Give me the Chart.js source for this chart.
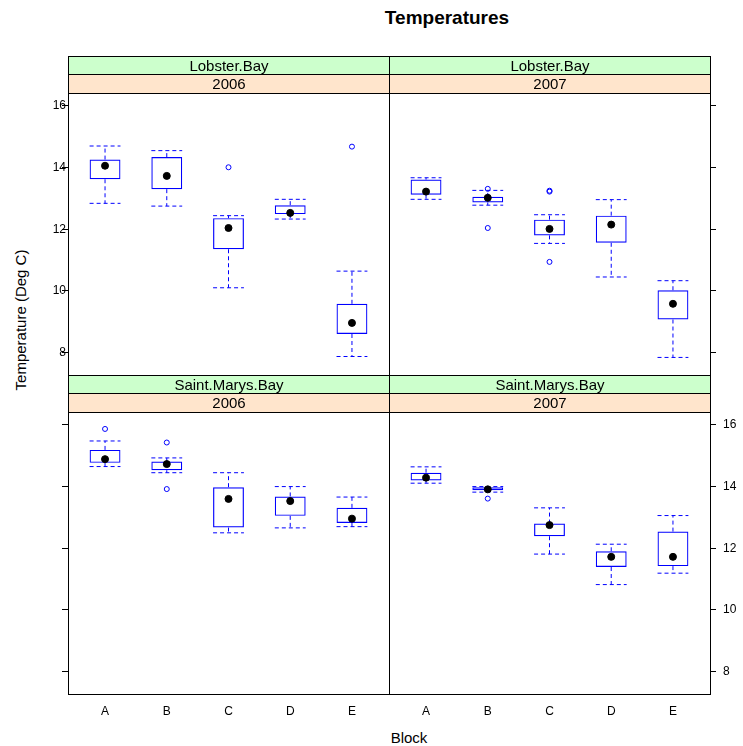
<!DOCTYPE html>
<html>
<head>
<meta charset="utf-8">
<script src="https://cdn.jsdelivr.net/npm/chart.js@4"></script>
<style>
  body { margin: 0; background: #fff; }
  #page { position: relative; width: 743px; height: 746px; overflow: hidden; font-family: 'Liberation Sans', Arial, sans-serif; }
  #page canvas { position: absolute; }
  .lbl { position: absolute; white-space: nowrap; color: #000; }
  #title { left: 447px; top: 18px; transform: translate(-50%, -50%); font-weight: bold; font-size: 19px; }
  #ylab { left: 20px; top: 320px; transform: translate(-50%, -50%) rotate(-90deg); font-size: 15px; }
  #xlab { left: 409px; top: 737px; transform: translate(-50%, -50%); font-size: 15px; }
</style>
</head>
<body>
<div id="page">
  <div class="lbl" id="title">Temperatures</div>
  <div class="lbl" id="ylab">Temperature (Deg C)</div>
  <div class="lbl" id="xlab">Block</div>
</div>
<script>
const blocks = ["A", "B", "C", "D", "E"];
const yTicks = [8, 10, 12, 14, 16];
const sites = ["Lobster.Bay", "Saint.Marys.Bay"];
const years = ["2006", "2007"];

// per block: [lower whisker, lower hinge, median, upper hinge, upper whisker]
const lobster2006 = [
  [12.84, 13.62, 14.06, 14.26, 14.70],
  [12.75, 13.30, 13.73, 14.34, 14.55],
  [10.10, 11.35, 12.04, 12.36, 12.44],
  [12.33, 12.49, 12.53, 12.78, 12.97],
  [7.87, 8.60, 8.96, 9.58, 10.64]
];
const lobster2007 = [
  [12.97, 13.12, 13.22, 13.61, 13.67],
  [12.78, 12.87, 13.02, 13.05, 13.26],
  [11.54, 11.80, 12.01, 12.31, 12.47],
  [10.45, 11.56, 12.15, 12.44, 12.96],
  [7.84, 9.07, 9.58, 10.02, 10.33]
];
const stMarys2006 = [
  [14.65, 14.77, 14.89, 15.19, 15.48],
  [14.45, 14.53, 14.73, 14.81, 14.93],
  [12.50, 12.67, 13.60, 13.98, 14.45],
  [12.66, 13.05, 13.53, 13.68, 14.00],
  [12.70, 12.82, 12.96, 13.31, 13.66]
];
const stMarys2007 = [
  [14.11, 14.20, 14.29, 14.45, 14.64],
  [13.82, 13.88, 13.91, 13.98, 14.00],
  [11.81, 12.39, 12.75, 12.80, 13.31],
  [10.82, 11.39, 11.72, 11.90, 12.13],
  [11.19, 11.42, 11.72, 12.54, 13.06]
];

// outliers: [block, value]
const lobster2006Out = [["C", 14.01], ["E", 14.68]];
const lobster2007Out = [["B", 13.31], ["B", 12.04], ["C", 13.22], ["C", 13.25], ["C", 10.94]];
const stMarys2006Out = [["A", 15.87], ["B", 15.43], ["B", 13.92]];
const stMarys2007Out = [["B", 13.61]];

const blue = "#0000FF";
Chart.defaults.font.family = "'Liberation Sans', Arial, sans-serif";
Chart.defaults.color = "#000";

const panels = [
  { site: sites[0], year: years[0], stats: lobster2006, out: lobster2006Out, row: 0, col: 0 },
  { site: sites[0], year: years[1], stats: lobster2007, out: lobster2007Out, row: 0, col: 1 },
  { site: sites[1], year: years[0], stats: stMarys2006, out: stMarys2006Out, row: 1, col: 0 },
  { site: sites[1], year: years[1], stats: stMarys2007, out: stMarys2007Out, row: 1, col: 1 }
];

const cols = [
  { left: 0, width: 400, padLeft: 0, padRight: 11, axis: "left", axisWidth: 68 },
  { left: 378, width: 365, padLeft: 11, padRight: 0, axis: "right", axisWidth: 33 }
];
const rows = [
  { top: 45, height: 340, padTop: 48, padBottom: 10, xAxis: false },
  { top: 364, height: 382, padTop: 48, padBottom: 0, xAxis: true, xAxisHeight: 52 }
];

// strips + panel border
const panelStrip = {
  id: "panelStrip",
  afterDraw(chart, args, opts) {
    const { ctx, chartArea: a } = chart;
    const l = Math.round(a.left) + 0.5, r = Math.round(a.right) + 0.5;
    const t = Math.round(a.top) + 0.5, b = Math.round(a.bottom) + 0.5;
    ctx.save();
    ctx.fillStyle = "#CCFFCC";
    ctx.fillRect(l, t - 37, r - l, 18);
    ctx.fillStyle = "#FFE5CC";
    ctx.fillRect(l, t - 19, r - l, 19);
    ctx.strokeStyle = "#000";
    ctx.lineWidth = 1;
    ctx.strokeRect(l, t - 37, r - l, 18);
    ctx.strokeRect(l, t - 19, r - l, 19);
    ctx.strokeRect(l, t, r - l, b - t);
    ctx.fillStyle = "#000";
    ctx.font = "15px 'Liberation Sans', Arial, sans-serif";
    ctx.textAlign = "center";
    ctx.textBaseline = "middle";
    ctx.fillText(opts.site, (l + r) / 2, t - 28 + 1);
    ctx.fillText(opts.year, (l + r) / 2, t - 9.5 + 1);
    ctx.restore();
  }
};

function whiskerPoints(stats) {
  const pts = [];
  stats.forEach((s, i) => {
    const x = i + 1;
    pts.push({ x, y: s[3] }, { x, y: s[4] }, { x, y: null });
    pts.push({ x: x - 0.25, y: s[4] }, { x: x + 0.25, y: s[4] }, { x, y: null });
    pts.push({ x, y: s[1] }, { x, y: s[0] }, { x, y: null });
    pts.push({ x: x - 0.25, y: s[0] }, { x: x + 0.25, y: s[0] }, { x, y: null });
  });
  return pts;
}

panels.forEach(p => {
  const col = cols[p.col], row = rows[p.row];
  const canvas = document.createElement("canvas");
  canvas.width = col.width;
  canvas.height = row.height;
  canvas.style.left = col.left + "px";
  canvas.style.top = row.top + "px";
  document.getElementById("page").appendChild(canvas);

  const showLabels = (p.row === 0 && p.col === 0) || (p.row === 1 && p.col === 1);

  new Chart(canvas, {
    type: "bar",
    data: {
      datasets: [
        {
          type: "line",
          data: p.stats.map((s, i) => ({ x: i + 1, y: s[2] })),
          showLine: false,
          pointRadius: 3.5,
          pointBorderWidth: 1,
          pointBackgroundColor: "#000",
          pointBorderColor: "#000"
        },
        {
          type: "line",
          data: p.out.map(([b, v]) => ({ x: blocks.indexOf(b) + 1, y: v })),
          showLine: false,
          pointRadius: 2.5,
          pointBorderWidth: 1,
          pointBorderColor: blue,
          pointBackgroundColor: "rgba(0,0,0,0)"
        },
        {
          type: "bar",
          data: p.stats.map((s, i) => ({ x: i + 1, y: [s[1], s[3]] })),
          borderColor: blue,
          borderWidth: 1.2,
          backgroundColor: "rgba(0,0,0,0)",
          borderSkipped: false,
          barPercentage: 0.5,
          categoryPercentage: 1
        },
        {
          type: "line",
          data: whiskerPoints(p.stats),
          borderColor: blue,
          borderWidth: 1,
          borderDash: [4, 3],
          pointRadius: 0,
          spanGaps: false
        }
      ]
    },
    options: {
      responsive: false,
      animation: false,
      events: [],
      layout: { padding: { left: col.padLeft, right: col.padRight, top: row.padTop, bottom: row.padBottom } },
      plugins: {
        legend: { display: false },
        tooltip: { enabled: false },
        panelStrip: { site: p.site, year: p.year }
      },
      scales: {
        x: {
          type: "linear",
          min: 0.4,
          max: 5.6,
          offset: false,
          display: row.xAxis,
          afterBuildTicks: ax => { ax.ticks = blocks.map((b, i) => ({ value: i + 1 })); },
          afterFit: ax => { if (row.xAxis) ax.height = row.xAxisHeight; },
          grid: { display: false, drawTicks: false, offset: false },
          border: { display: false },
          ticks: { callback: (v, i) => blocks[i], font: { size: 12 }, padding: 10, maxRotation: 0, autoSkip: false }
        },
        y: {
          type: "linear",
          position: col.axis,
          min: 7.27,
          max: 16.42,
          afterBuildTicks: ax => { ax.ticks = yTicks.map(v => ({ value: v })); },
          afterFit: ax => { ax.width = col.axisWidth; },
          grid: { drawOnChartArea: false, drawTicks: true, tickLength: 6, color: "#000" },
          border: { display: false },
          ticks: { display: showLabels, font: { size: 12 }, padding: col.axis === "left" ? -4 : 7 }
        }
      }
    },
    plugins: [panelStrip]
  });
});
</script>
</body>
</html>
